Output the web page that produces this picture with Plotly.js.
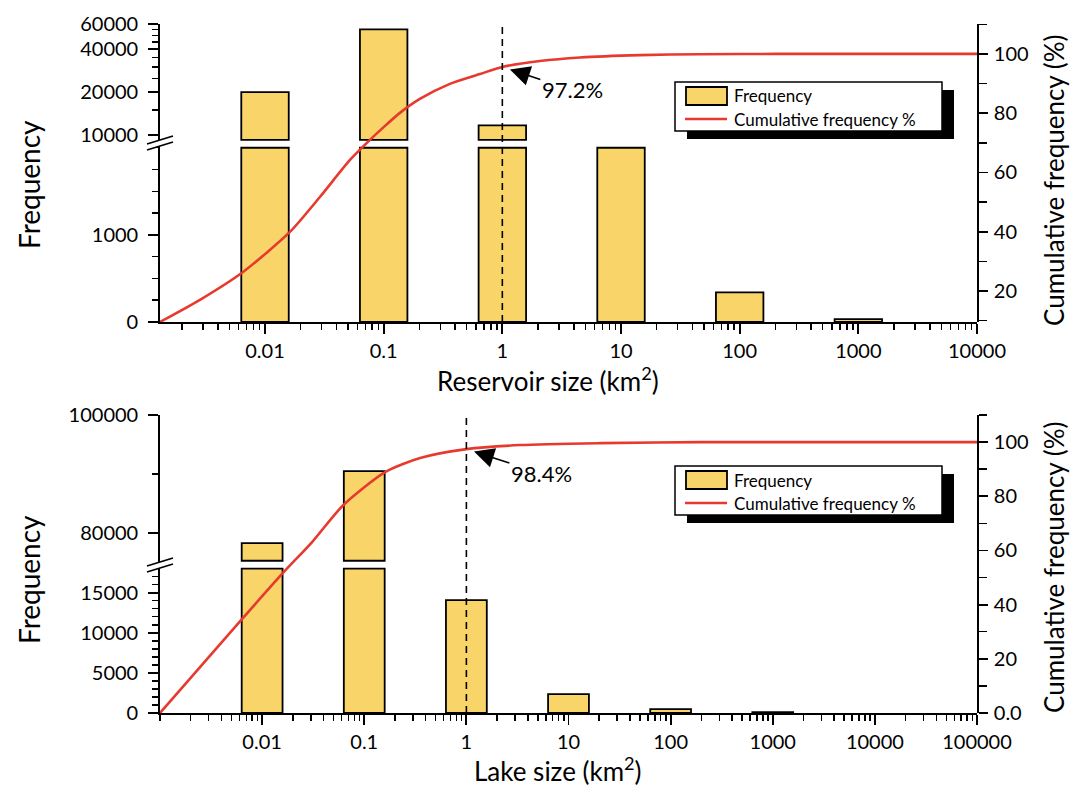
<!DOCTYPE html>
<html>
<head>
<meta charset="utf-8">
<script src="https://cdn.plot.ly/plotly-3.0.1.min.js"></script>
<style>html,body{margin:0;padding:0;background:#fff;}#chart{width:1070px;height:786px;}</style>
</head>
<body>
<div id="chart"></div>
<script>
// ---------------- data ----------------
const TOP_SIZES = [0.01, 0.1, 1, 10, 100, 1000];
const TOP_FREQ  = [20000, 55000, 11700, 6000, 341, 34];
const TOP_CUM_X = [0.0013, 0.00283, 0.00652, 0.0162, 0.029, 0.052, 0.0736, 0.1026, 0.137, 0.2018, 0.361, 0.647, 1, 2.07, 4.5, 14.4, 46, 200, 10000];
const TOP_CUM_Y = [9.5, 17.0, 26.4, 39.9, 51.7, 64.2, 70.3, 75.7, 80.1, 84.8, 89.9, 93.2, 95.6, 97.6, 98.8, 99.6, 99.9, 100, 100];
const TOP_MARK = {x: 1, y: 95.6, label: '97.2%'};

const BOT_SIZES = [0.01, 0.1, 1, 10, 100, 1000];
const BOT_FREQ  = [78300, 90500, 14070, 2350, 494, 100];
const BOT_CUM_X = [0.001, 0.0065, 0.016, 0.031, 0.0619, 0.16, 0.352, 1, 3.36, 20.4, 195, 100000];
const BOT_CUM_Y = [0, 35.1, 51.7, 63.2, 76.6, 88.9, 94.1, 97.4, 98.9, 99.6, 100, 100];
const BOT_MARK = {x: 1, y: 97.4, label: '98.4%'};

const TOP_X_TICKS  = [0.01, 0.1, 1, 10, 100, 1000, 10000];
const TOP_X_LABELS = ['0.01', '0.1', '1', '10', '100', '1000', '10000'];
const BOT_X_TICKS  = [0.01, 0.1, 1, 10, 100, 1000, 10000, 100000];
const BOT_X_LABELS = ['0.01', '0.1', '1', '10', '100', '1000', '10000', '100000'];

const TOP_LOW_TICKS = [0, 1000];
const TOP_HIGH_TICKS = [10000, 20000, 40000, 60000];
const TOP_HIGH_MINOR = [15000, 25000, 30000, 35000, 45000, 50000, 55000];
const BOT_LOW_TICKS = [0, 5000, 10000, 15000];
const BOT_HIGH_TICKS = [80000, 100000];
const TOP_R_TICKS = [20, 40, 60, 80, 100];
const BOT_R_TICKS = [0, 20, 40, 60, 80, 100];
const BOT_R_LABELS = ['0.0', '20', '40', '60', '80', '100'];

// ---------------- styling ----------------
const FONT = 'Lato, "Open Sans", sans-serif';
const BAR_COLOR = '#f8d469';
const LINE_COLOR = '#e8392f';
const W = 1070, H = 786, ML = 160, MR = 93, MT = 24, MB = 73;
const PW = W - ML - MR, PH = H - MT - MB;
const PX = p => (p - ML) / PW;
const PY = p => (H - MB - p) / PH;

function minorLog(lo, hi) {
  const out = [];
  for (let e = -4; e <= 6; e++) for (let d = 1; d <= 9; d++) {
    const v = d * Math.pow(10, e);
    if (d === 1 && v > lo * 1.01) continue;
    if (v >= lo * 0.999 && v < hi) out.push(v);
  }
  return out;
}

const tickFont = {family: FONT, size: 20, color: '#000'};
const base = {showline: true, linecolor: '#000', linewidth: 1.8, ticks: 'outside', tickcolor: '#000',
  tickwidth: 1.8, showgrid: false, zeroline: false, fixedrange: true, tickfont: tickFont};

function barTraces(sizes, freq, xa, yLow, yHigh, cap, hbase) {
  const xs = sizes.map(Math.log10);
  const mk = {color: BAR_COLOR, line: {color: '#000', width: 1.8}};
  const low = {type: 'bar', x: xs, y: freq.map(v => Math.min(v, cap)), width: 0.4,
    xaxis: xa, yaxis: yLow, marker: mk, showlegend: false, hoverinfo: 'skip'};
  const hx = [], hy = [];
  freq.forEach((v, i) => { if (v > hbase) { hx.push(xs[i]); hy.push(v - hbase); } });
  const high = {type: 'bar', x: hx, y: hy, base: hbase, width: 0.4,
    xaxis: xa, yaxis: yHigh, marker: mk, showlegend: false, hoverinfo: 'skip'};
  return [low, high];
}
const dummy = (xa, ya) => ({type: 'scatter', x: [], y: [], xaxis: xa, yaxis: ya, showlegend: false, hoverinfo: 'skip'});

const TOP_XR = [-2.885, 4];
const BOT_XR = [-3, 5];
const TOP_LOW_CAP = 2000, TOP_HIGH_BASE = 9250;
const BOT_LOW_CAP = 18000, BOT_HIGH_BASE = 75300;
const lineStyle = {color: LINE_COLOR, width: 2.6, shape: 'spline', smoothing: 0.7};

const traces = [
  dummy('x', 'y'), dummy('x', 'y2'),
  ...barTraces(TOP_SIZES, TOP_FREQ, 'x2', 'y', 'y2', TOP_LOW_CAP, TOP_HIGH_BASE),
  {type: 'scatter', mode: 'lines', x: TOP_CUM_X, y: TOP_CUM_Y, xaxis: 'x', yaxis: 'y3',
    line: lineStyle, showlegend: false, hoverinfo: 'skip'},
  dummy('x4', 'y4'), dummy('x4', 'y5'),
  ...barTraces(BOT_SIZES, BOT_FREQ, 'x5', 'y4', 'y5', BOT_LOW_CAP, BOT_HIGH_BASE),
  {type: 'scatter', mode: 'lines', x: BOT_CUM_X, y: BOT_CUM_Y, xaxis: 'x4', yaxis: 'y6',
    line: lineStyle, showlegend: false, hoverinfo: 'skip'}
];

const minorOut = {ticks: 'outside', ticklen: 6, tickwidth: 1.5, tickcolor: '#000'};
const minorIn = {ticks: 'inside', ticklen: 5, tickwidth: 1.5, tickcolor: '#000'};

const layout = {
  width: W, height: H, margin: {l: ML, r: MR, t: MT, b: MB},
  paper_bgcolor: '#fff', plot_bgcolor: 'rgba(0,0,0,0)', showlegend: false,
  font: {family: FONT, color: '#000'},
  // ---- top panel ----
  xaxis: Object.assign({}, base, {type: 'log', domain: [0, 1], range: TOP_XR, anchor: 'y',
    tickmode: 'array', tickvals: TOP_X_TICKS, ticktext: TOP_X_LABELS, ticklen: 10,
    minor: Object.assign({tickmode: 'array', tickvals: minorLog(0.0013, 10000)}, minorOut)}),
  xaxis2: {overlaying: 'x', anchor: 'y', range: TOP_XR, visible: false, fixedrange: true},
  xaxis3: Object.assign({}, base, {type: 'log', overlaying: 'x', anchor: 'y2', side: 'top', range: TOP_XR,
    tickmode: 'array', tickvals: TOP_X_TICKS, showticklabels: false, ticks: 'inside', ticklen: 9,
    minor: Object.assign({tickmode: 'array', tickvals: minorLog(0.0013, 10000)}, minorIn)}),
  yaxis: Object.assign({}, base, {domain: [PY(322), PY(146)], range: [0, 2020], anchor: 'x',
    tickmode: 'array', tickvals: TOP_LOW_TICKS, ticklen: 10, ticklabelstandoff: 6,
    minor: Object.assign({tickmode: 'linear', tick0: 0, dtick: 250}, minorOut)}),
  yaxis2: Object.assign({}, base, {type: 'log', domain: [PY(141), 1], range: [3.958, 4.7785], anchor: 'x',
    tickmode: 'array', tickvals: TOP_HIGH_TICKS, ticktext: TOP_HIGH_TICKS.map(String), ticklen: 10, ticklabelstandoff: 6,
    minor: Object.assign({tickmode: 'array', tickvals: TOP_HIGH_MINOR}, minorOut)}),
  yaxis3: Object.assign({}, base, {domain: [PY(322), 1], range: [9.5, 110.1], anchor: 'x', side: 'right',
    tickmode: 'array', tickvals: TOP_R_TICKS, ticklen: 9, ticklabelstandoff: 2,
    minor: Object.assign({tickmode: 'linear', tick0: 0, dtick: 10}, minorOut, {ticklen: 8})}),
  // ---- bottom panel ----
  xaxis4: Object.assign({}, base, {type: 'log', domain: [0, 1], range: BOT_XR, anchor: 'y4',
    tickmode: 'array', tickvals: BOT_X_TICKS, ticktext: BOT_X_LABELS, ticklen: 10,
    minor: Object.assign({tickmode: 'array', tickvals: minorLog(0.001, 100000)}, minorOut)}),
  xaxis5: {overlaying: 'x4', anchor: 'y4', range: BOT_XR, visible: false, fixedrange: true},
  xaxis6: Object.assign({}, base, {type: 'log', overlaying: 'x4', anchor: 'y5', side: 'top', range: BOT_XR,
    tickmode: 'array', tickvals: BOT_X_TICKS, showticklabels: false, ticks: 'inside', ticklen: 9,
    minor: Object.assign({tickmode: 'array', tickvals: minorLog(0.001, 100000)}, minorIn)}),
  yaxis4: Object.assign({}, base, {domain: [0, PY(567)], range: [0, 18200], anchor: 'x4',
    tickmode: 'array', tickvals: BOT_LOW_TICKS, ticktext: BOT_LOW_TICKS.map(String), ticklen: 10, ticklabelstandoff: 6,
    minor: Object.assign({tickmode: 'linear', tick0: 0, dtick: 1000}, minorOut)}),
  yaxis5: Object.assign({}, base, {domain: [PY(562), PY(415)], range: [75085, 100000], anchor: 'x4',
    tickmode: 'array', tickvals: BOT_HIGH_TICKS, ticktext: BOT_HIGH_TICKS.map(String), ticklen: 10, ticklabelstandoff: 6,
    minor: Object.assign({tickmode: 'array', tickvals: [90000]}, minorOut)}),
  yaxis6: Object.assign({}, base, {domain: [0, PY(415)], range: [0, 110], anchor: 'x4', side: 'right',
    tickmode: 'array', tickvals: BOT_R_TICKS, ticktext: BOT_R_LABELS, ticklen: 9, ticklabelstandoff: 2,
    minor: Object.assign({tickmode: 'linear', tick0: 0, dtick: 10}, minorOut, {ticklen: 8})}),
  shapes: [],
  annotations: []
};

// dashed reference lines at size = 1
layout.shapes.push({type: 'line', xref: 'x', yref: 'y3 domain', x0: TOP_MARK.x, x1: TOP_MARK.x, y0: 0, y1: 1,
  line: {color: '#000', width: 1.6, dash: '7px,5px'}});
layout.shapes.push({type: 'line', xref: 'x4', yref: 'y6 domain', x0: BOT_MARK.x, x1: BOT_MARK.x, y0: 0, y1: 1,
  line: {color: '#000', width: 1.6, dash: '7px,5px'}});

// axis break marks
function breakMark(yc) {
  const p = `M ${PX(147)} ${PY(yc + 3)} L ${PX(173)} ${PY(yc - 5)} L ${PX(173)} ${PY(yc + 1)} L ${PX(147)} ${PY(yc + 9)} Z`;
  layout.shapes.push({type: 'path', xref: 'paper', yref: 'paper', path: p, fillcolor: '#fff', line: {width: 0}});
  layout.shapes.push({type: 'line', xref: 'paper', yref: 'paper', x0: PX(147), y0: PY(yc + 3), x1: PX(173), y1: PY(yc - 5), line: {color: '#000', width: 1.8}});
  layout.shapes.push({type: 'line', xref: 'paper', yref: 'paper', x0: PX(147), y0: PY(yc + 9), x1: PX(173), y1: PY(yc + 1), line: {color: '#000', width: 1.8}});
}
breakMark(141);
breakMark(563);

// custom legends with drop shadow
function legendBox(left, top) {
  const r = (x0, y0, x1, y1, fill, lw) => ({type: 'rect', xref: 'paper', yref: 'paper',
    x0: PX(x0), x1: PX(x1), y0: PY(y0), y1: PY(y1), fillcolor: fill, line: {color: '#000', width: lw}});
  layout.shapes.push(r(left + 12, top + 8, left + 279, top + 57, '#000', 0));
  layout.shapes.push(r(left, top, left + 267, top + 49, '#fff', 1.5));
  layout.shapes.push(r(left + 11, top + 5, left + 52, top + 23, BAR_COLOR, 1.8));
  layout.shapes.push({type: 'line', xref: 'paper', yref: 'paper', x0: PX(left + 10), x1: PX(left + 52),
    y0: PY(top + 37), y1: PY(top + 37), line: {color: LINE_COLOR, width: 2.4}});
  const t = (txt, dy) => ({text: txt, xref: 'paper', yref: 'paper', x: PX(left + 57), y: PY(top + dy),
    xanchor: 'left', yanchor: 'middle', showarrow: false, font: {family: FONT, size: 17, color: '#000'}});
  layout.annotations.push(t('Frequency', 14));
  layout.annotations.push(t('Cumulative frequency %', 37));
}
legendBox(675, 82);
legendBox(675, 466);

// arrows with percentages
layout.annotations.push({xref: 'x', yref: 'y3', x: Math.log10(TOP_MARK.x), y: TOP_MARK.y, text: TOP_MARK.label,
  showarrow: true, ax: 70, ay: 23, arrowhead: 2, arrowsize: 2.5, arrowwidth: 1.6, arrowcolor: '#000', standoff: 8,
  font: {family: FONT, size: 22, color: '#000'}});
layout.annotations.push({xref: 'x4', yref: 'y6', x: Math.log10(BOT_MARK.x), y: BOT_MARK.y, text: BOT_MARK.label,
  showarrow: true, ax: 75, ay: 24, arrowhead: 2, arrowsize: 2.5, arrowwidth: 1.6, arrowcolor: '#000', standoff: 8,
  font: {family: FONT, size: 22, color: '#000'}});

// axis titles
const title = (txt, x, y, size, angle) => ({text: txt, xref: 'paper', yref: 'paper', x: PX(x), y: PY(y),
  xanchor: 'center', yanchor: 'middle', showarrow: false, textangle: angle || 0, font: {family: FONT, size: size, color: '#000'}});
layout.annotations.push(title('Frequency', 29, 185, 28, -90));
layout.annotations.push(title('Cumulative frequency (%)', 1054, 180, 26, -90));
layout.annotations.push(title('Reservoir size (km<sup>2</sup>)', 548, 380, 26));
layout.annotations.push(title('Frequency', 29, 580, 28, -90));
layout.annotations.push(title('Cumulative frequency (%)', 1054, 567, 26, -90));
layout.annotations.push(title('Lake size (km<sup>2</sup>)', 558, 769, 26));

Plotly.newPlot('chart', traces, layout, {staticPlot: true, displayModeBar: false});
</script>
</body>
</html>
